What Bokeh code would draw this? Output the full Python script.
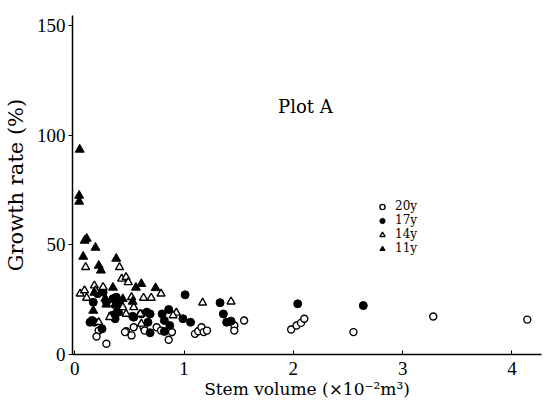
from bokeh.plotting import figure
from bokeh.models import Legend, LegendItem, Label, FixedTicker, Range1d
from bokeh.embed import file_html
from bokeh.resources import INLINE

# 20y (open circles)
x20 = [0.22, 0.20, 0.29, 0.44, 0.47, 0.52, 0.54, 0.63, 0.64, 0.75, 0.79, 0.86, 0.89,
       1.10, 1.13, 1.16, 1.18, 1.21, 1.46, 1.46, 1.55, 1.98, 2.03, 2.07, 2.10, 2.55,
       3.28, 4.14, 0.46]
y20 = [10.9, 8.2, 4.9, 20.0, 10.6, 8.7, 12.4, 12.4, 10.9, 12.4, 10.9, 6.7, 10.2,
       9.4, 10.6, 12.4, 10.2, 10.9, 13.2, 10.9, 15.5, 11.4, 13.2, 14.4, 16.3, 10.2,
       17.3, 15.9, 10.2]

# 17y (filled circles)
x17 = [0.17, 0.21, 0.26, 0.38, 0.41, 0.40, 0.37, 0.34, 0.16, 0.18, 0.25, 0.54, 0.61,
       0.66, 0.69, 0.67, 0.69, 0.80, 0.86, 0.82, 0.87, 0.82, 0.53, 1.01, 0.99, 1.06,
       1.33, 1.36, 1.39, 1.43, 2.04, 2.64, 0.29, 0.35, 0.14]
y17 = [23.8, 27.7, 28.4, 26.1, 23.1, 19.3, 16.3, 17.8, 15.5, 14.7, 11.7, 17.0, 18.5,
       19.3, 18.5, 14.7, 9.9, 18.5, 20.5, 15.5, 13.2, 10.5, 17.4, 27.2, 16.3, 14.7,
       23.6, 18.5, 14.7, 15.2, 23.1, 22.3, 23.8, 25.4, 14.7]

# 14y (open triangles)
x14 = [0.10, 0.41, 0.43, 0.47, 0.49, 0.05, 0.09, 0.11, 0.18, 0.26, 0.22, 0.52, 0.63,
       0.70, 0.79, 0.54, 0.47, 0.61, 0.60, 0.93, 0.90, 1.17, 1.43, 0.32, 0.38, 0.44,
       0.19]
y14 = [39.8, 39.8, 34.5, 35.2, 32.9, 27.7, 29.2, 25.8, 31.4, 30.7, 14.7, 26.1, 25.8,
       25.8, 27.7, 21.5, 18.5, 14.0, 18.5, 19.0, 17.8, 23.6, 24.1, 17.0, 22.3, 21.5,
       29.2]

# 11y (filled triangles)
x11 = [0.046, 0.041, 0.041, 0.11, 0.091, 0.19, 0.078, 0.22, 0.24, 0.38, 0.35, 0.56,
       0.61, 0.74, 0.17, 0.29, 0.37, 0.44, 0.53, 0.18, 0.28, 0.38]
y11 = [93.4, 72.4, 69.7, 52.8, 51.9, 48.7, 44.6, 40.5, 38.3, 43.7, 30.5, 30.5,
       32.2, 30.3, 20.0, 22.8, 22.8, 25.3, 24.1, 28.2, 25.5, 20.0]

series_labels = ["20y", "17y", "14y", "11y"]
x_ticks = [0, 1, 2, 3, 4]
y_ticks = [0, 50, 100, 150]

FONT = "Liberation Serif"
WIDE = "DejaVu Serif"

p = figure(width=544, height=403, output_backend="svg", toolbar_location=None,
           x_range=Range1d(-0.02, 4.27), y_range=Range1d(0, 154.5),
           min_border_left=71, min_border_right=3, min_border_top=15,
           min_border_bottom=49)
p.outline_line_color = None
p.grid.visible = False
p.background_fill_color = "white"

r20 = p.scatter(x20, y20, marker="circle", size=7, fill_color="white",
                line_color="black", line_width=1.4)
r17 = p.scatter(x17, y17, marker="circle", size=8, fill_color="black",
                line_color="black")
r14 = p.scatter(x14, y14, marker="triangle", size=8, fill_color="white",
                line_color="black", line_width=1.4)
r11 = p.scatter(x11, y11, marker="triangle", size=9, fill_color="black",
                line_color="black")

# axes
p.xaxis.ticker = FixedTicker(ticks=x_ticks)
p.yaxis.ticker = FixedTicker(ticks=y_ticks)
for ax in (p.xaxis[0], p.yaxis[0]):
    ax.axis_line_color = "black"
    ax.axis_line_width = 1.5
    ax.major_tick_line_color = "black"
    ax.minor_tick_line_color = None
    ax.major_label_text_font = FONT
    ax.major_label_text_font_size = "19px"
    ax.major_label_text_color = "black"
    ax.axis_label_text_font = WIDE
    ax.axis_label_text_font_style = "normal"
    ax.axis_label_text_color = "black"

p.xaxis.major_tick_in = 4
p.xaxis.major_tick_out = 0
p.xaxis.major_label_standoff = 7
p.xaxis.axis_label = "Stem volume (×10⁻²m³)"
p.xaxis.axis_label_text_font_size = "17px"
p.xaxis.axis_label_standoff = 1

p.yaxis.major_tick_in = 0
p.yaxis.major_tick_out = 4
p.yaxis.major_label_standoff = 3
p.yaxis.axis_label = "Growth rate (%)"
p.yaxis.axis_label_text_font_size = "21px"
p.yaxis.axis_label_standoff = 6

p.add_layout(Label(x=1.86, y=113, text="Plot A", text_font=WIDE,
                   text_font_size="18px", text_color="black",
                   text_baseline="alphabetic"))

renderers = [r20, r17, r14, r11]
legend = Legend(items=[LegendItem(label=lab, renderers=[r])
                       for lab, r in zip(series_labels, renderers)],
                location=(303, 99), border_line_color=None,
                background_fill_alpha=0, padding=0, margin=0, spacing=0,
                glyph_width=14, glyph_height=13, label_height=12,
                label_standoff=6, label_text_font=WIDE,
                label_text_color="black", label_text_font_size="12px")
p.add_layout(legend)

open("out.html", "w").write(file_html(p, INLINE))
